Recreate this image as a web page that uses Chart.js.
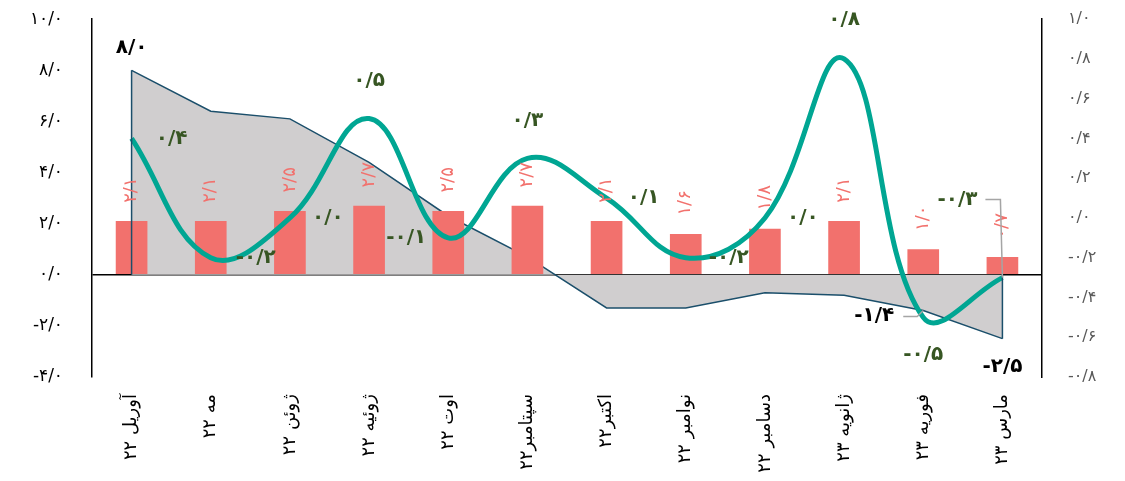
<!DOCTYPE html>
<html>
<head>
<meta charset="utf-8">
<script src="https://cdn.jsdelivr.net/npm/chart.js@4.4.0/dist/chart.umd.min.js"></script>
<style>
  html, body { margin: 0; padding: 0; background: #fff; }
  #chart { display: block; }
</style>
</head>
<body>
<canvas id="chart" width="1125" height="481"></canvas>
<script>
// Categories (Persian months)
const months = ['آوریل ۲۲', 'مه ۲۲', 'ژوئن ۲۲', 'ژوئیه ۲۲', 'اوت ۲۲', 'سپتامبر۲۲', 'اکتبر۲۲', 'نوامبر ۲۲', 'دسامبر ۲۲', 'ژانویه ۲۳', 'فوریه ۲۳', 'مارس ۲۳'];

// Series values
const areaValues = [8.0, 6.4, 6.1, 4.4, 2.3, 0.7, -1.3, -1.3, -0.7, -0.8, -1.4, -2.5];
const barValues = [2.1, 2.1, 2.5, 2.7, 2.5, 2.7, 2.1, 1.6, 1.8, 2.1, 1.0, 0.7];
const lineValues = [0.4, -0.2, 0.0, 0.5, -0.1, 0.3, 0.1, -0.2, 0.0, 0.8, -0.5, -0.3];

// Which area points carry a label
const areaLabelled = [0, 10, 11];

// Label placement for the line series (style only)
const lineLabelOffsets = [[40, 0], [45, 0], [38, 0], [0, -38], [-42, 0], [0, -38], [37, 0], [43, 0], [38, 0], [0, -39], [0, 37], [-45, -78]];
const areaLabelOffsets = { 0: [0, -23], 10: [-49, 5], 11: [0, 28] };

const faDigits = '۰۱۲۳۴۵۶۷۸۹';
function fa(v) {
    if (Math.abs(v) < 1e-9) v = 0;
    return v.toFixed(1).replace('.', '/').replace(/\d/g, d => faDigits[d]);
}

const FONT = "'DejaVu Sans', sans-serif";

const labelPlugin = {
    id: 'labels',
    afterDatasetsDraw(chart) {
        const ctx = chart.ctx;
        const areaMeta = chart.getDatasetMeta(0);
        const barMeta = chart.getDatasetMeta(1);
        const lineMeta = chart.getDatasetMeta(2);
        const y0 = chart.scales.y.getPixelForValue(0);

        ctx.save();
        // vertical edges of the area
        ctx.strokeStyle = '#1B4F6B';
        ctx.lineWidth = 1.5;
        const first = areaMeta.data[0];
        const lastA = areaMeta.data[areaMeta.data.length - 1];
        ctx.beginPath();
        ctx.moveTo(first.x, first.y);
        ctx.lineTo(first.x, y0);
        ctx.moveTo(lastA.x, lastA.y);
        ctx.lineTo(lastA.x, y0);
        ctx.stroke();

        // bar labels, rotated
        ctx.fillStyle = '#F2716D';
        ctx.font = '18px ' + FONT;
        ctx.textAlign = 'center';
        ctx.textBaseline = 'middle';
        barMeta.data.forEach((el, i) => {
            ctx.save();
            ctx.translate(el.x, el.y - 31);
            ctx.rotate(-Math.PI / 2);
            ctx.fillText(fa(barValues[i]), 0, 0);
            ctx.restore();
        });

        // area labels
        ctx.fillStyle = '#000';
        ctx.font = 'bold 20px ' + FONT;
        areaLabelled.forEach(i => {
            const el = areaMeta.data[i];
            const off = areaLabelOffsets[i];
            ctx.fillText(fa(areaValues[i]), el.x + off[0], el.y + off[1]);
        });
        // leader for Feb area label
        const feb = areaMeta.data[10];
        ctx.strokeStyle = '#A5A5A5';
        ctx.lineWidth = 1.5;
        ctx.beginPath();
        ctx.moveTo(feb.x - 20, feb.y + 6);
        ctx.lineTo(feb.x - 6, feb.y + 6);
        ctx.lineTo(feb.x, feb.y);
        ctx.stroke();

        // line labels
        ctx.fillStyle = '#375623';
        ctx.font = 'bold 20px ' + FONT;
        lineMeta.data.forEach((el, i) => {
            const off = lineLabelOffsets[i];
            ctx.fillText(fa(lineValues[i]), el.x + off[0], el.y + off[1]);
        });
        // leader for last line label
        const last = lineMeta.data[11];
        ctx.beginPath();
        ctx.moveTo(last.x - 17, last.y - 78);
        ctx.lineTo(last.x - 2, last.y - 78);
        ctx.lineTo(last.x, last.y);
        ctx.stroke();
        ctx.restore();
    }
};

new Chart(document.getElementById('chart'), {
    data: {
        labels: months,
        datasets: [
            {
                type: 'line',
                data: areaValues,
                yAxisID: 'y',
                fill: 'origin',
                backgroundColor: '#D0CECF',
                borderColor: '#1B4F6B',
                borderWidth: 1.5,
                pointRadius: 0,
                tension: 0,
                order: 3
            },
            {
                type: 'bar',
                data: barValues,
                yAxisID: 'y',
                backgroundColor: '#F2716D',
                barPercentage: 0.4,
                categoryPercentage: 1,
                order: 2
            },
            {
                type: 'line',
                data: lineValues,
                yAxisID: 'y1',
                borderColor: '#00A693',
                borderWidth: 5,
                pointRadius: 0,
                tension: 0.4,
                fill: false,
                order: 1
            }
        ]
    },
    options: {
        responsive: false,
        animation: false,
        layout: { padding: 0 },
        plugins: {
            legend: { display: false },
            tooltip: { enabled: false }
        },
        scales: {
            x: {
                offset: true,
                grid: { display: false },
                border: { display: false },
                ticks: {
                    color: '#000',
                    font: { family: FONT, size: 18 },
                    minRotation: 90,
                    maxRotation: 90,
                    padding: 9,
                    autoSkip: false
                },
                afterFit(scale) { scale.height = 104; }
            },
            y: {
                position: 'left',
                min: -4,
                max: 10,
                border: { display: true, color: '#000', width: 1.5 },
                grid: {
                    drawTicks: true,
                    tickLength: 20,
                    tickColor: 'rgba(0,0,0,0)',
                    color: ctx => ctx.tick && Math.abs(ctx.tick.value) < 1e-9 ? '#000' : 'rgba(0,0,0,0)',
                    lineWidth: 1.5
                },
                ticks: {
                    stepSize: 2,
                    color: '#000',
                    padding: 9,
                    font: { family: FONT, size: 17 },
                    callback: v => fa(v)
                },
                afterFit(scale) { scale.width = 92; }
            },
            y1: {
                position: 'right',
                min: -0.8,
                max: 1.0,
                border: { display: true, color: '#000', width: 1.5 },
                grid: { display: false, drawTicks: true, tickLength: 17 },
                ticks: {
                    stepSize: 0.2,
                    color: '#595959',
                    padding: 9,
                    font: { family: FONT, size: 16 },
                    callback: v => fa(v)
                },
                afterFit(scale) { scale.width = 83; }
            }
        }
    },
    plugins: [labelPlugin]
});
</script>
</body>
</html>
